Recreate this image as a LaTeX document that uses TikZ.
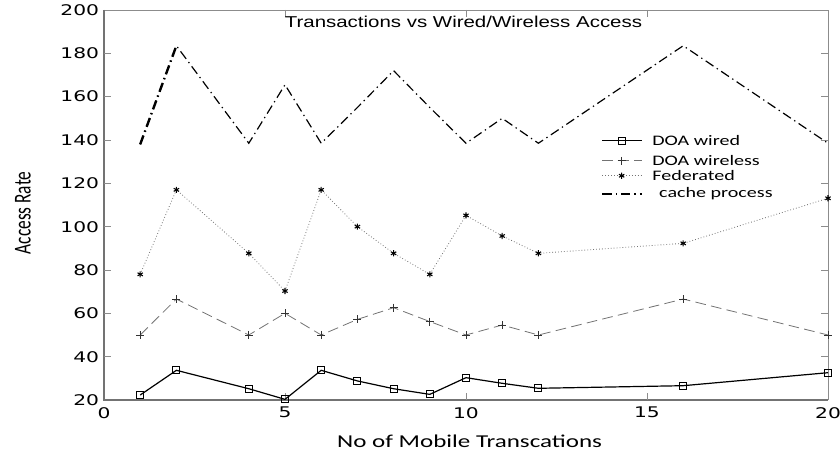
\documentclass[tikz,border=0pt]{standalone}
\usepackage{fontspec}
\usetikzlibrary{plotmarks}
\newfontfamily\tickfont[FakeStretch=1.38]{DejaVu Sans}
\newfontfamily\titlefont[FakeStretch=1.3]{Liberation Sans}
\newfontfamily\labelfont[FakeStretch=1.38]{Carlito}
\newfontfamily\ylabelfont{Carlito}

\begin{document}
\begin{tikzpicture}[
    axisline/.style={draw=black!55,line width=1.1pt},
    frameline/.style={draw=black!45,line width=0.7pt},
    wired/.style={black,line width=0.9pt,mark=square,mark size=2.6pt,mark options={solid,line width=0.8pt}},
    wireless/.style={black!55,line width=0.6pt,dash pattern=on 8pt off 4pt,mark=+,mark size=3pt,mark options={solid,black!80}},
    federated/.style={black!55,line width=0.6pt,dash pattern=on 0.6pt off 1.6pt,mark=asterisk,mark size=2.3pt,mark options={solid,black,line width=0.8pt}},
    cache/.style={black,line width=0.9pt,dash pattern=on 7pt off 3pt on 1pt off 3pt},
    ticklabel/.style={font=\tickfont\fontsize{11}{13}\selectfont,inner sep=1pt},
    legendtext/.style={font=\labelfont\fontsize{10.9}{13}\selectfont,anchor=west,inner sep=0pt}]
  \useasboundingbox (0,0) rectangle (630pt,339.75pt);
  \begin{scope}[shift={(78pt,7.25pt)},x=27.15pt,y=1.625pt]
    % frame and ticks
    \draw[frameline] (0,200) -- (20,200) -- (20,20);
    \draw[axisline] (0,200) -- (0,20) -- (20,20);
    \foreach \v in {40,60,...,180} {
      \draw[frameline] (0,\v) -- ++(5.25pt,0);
      \draw[frameline] (20,\v) -- ++(-5.25pt,0);
    }
    \foreach \x in {5,10,15} {
      \draw[frameline] (\x,20) -- ++(0,5.25pt);
      \draw[frameline] (\x,200) -- ++(0,-5.25pt);
    }
    \foreach \v in {20,40,...,200}
      \node[ticklabel,left,xshift=-2.5pt] (yt\v) at (0,\v) {\v};
    \foreach \x in {0,5,...,20}
      \node[ticklabel,below,yshift=-4.25pt] (xt\x) at (\x,20) {\x};

    \node[font=\titlefont\fontsize{11.8}{14}\selectfont] (title) at (9.93,194.5) {Transactions vs Wired/Wireless Access};
    \node[font=\labelfont\fontsize{13.6}{16}\selectfont] (xlabel) at (10.1,1.1) {No of Mobile Transcations};
    \node[font=\ylabelfont\fontsize{13}{16}\selectfont,rotate=90] (ylabel) at (-2.24,106.3) {\scalebox{1}[1.4]{Access Rate}};

    % data
    \draw[cache] plot coordinates {(1,138) (2,183.5) (4,138.5) (5,165.5) (6,138.5) (7,155) (8,172) (9,155) (10,138.5) (11,150) (12,138.5) (16,183.5) (20,138.5)};
    \draw[cache,line width=1.8pt] (1,138) -- (2,183.5);
    \draw[federated] plot coordinates {(1,78) (2,117) (4,87.7) (5,70.3) (6,117) (7,100) (8,87.7) (9,78) (10,105.2) (11,95.7) (12,87.7) (16,92.3) (20,113.1)};
    \draw[wireless] plot coordinates {(1,50) (2,66.6) (4,50) (5,60) (6,50) (7,57.2) (8,62.6) (9,56.2) (10,50) (11,54.6) (12,50) (16,66.6) (20,50)};
    \draw[wired] plot coordinates {(1,22.3) (2,33.7) (4,25.2) (5,20.3) (6,33.7) (7,28.8) (8,25.2) (9,22.6) (10,30.3) (11,27.7) (12,25.4) (16,26.6) (20,32.6)};

    % legend
    \draw[wired,mark indices={2}] plot coordinates {(13.77,139.7) (14.3,139.7) (14.85,139.7)};
    \draw[wireless,mark indices={2}] plot coordinates {(13.77,130.4) (14.3,130.4) (14.85,130.4)};
    \draw[federated,mark indices={2}] plot coordinates {(13.77,123.5) (14.3,123.5) (14.85,123.5)};
    \draw[cache] (13.77,115.1) -- (14.85,115.1);
    \node[legendtext] (leg1) at (15.14,139.7) {DOA wired};
    \node[legendtext] (leg2) at (15.14,130.4) {DOA wireless};
    \node[legendtext] (leg3) at (15.14,123.5) {Federated};
    \node[legendtext] (leg4) at (15.33,115.1) {cache process};
  \end{scope}
\end{tikzpicture}
\end{document}
